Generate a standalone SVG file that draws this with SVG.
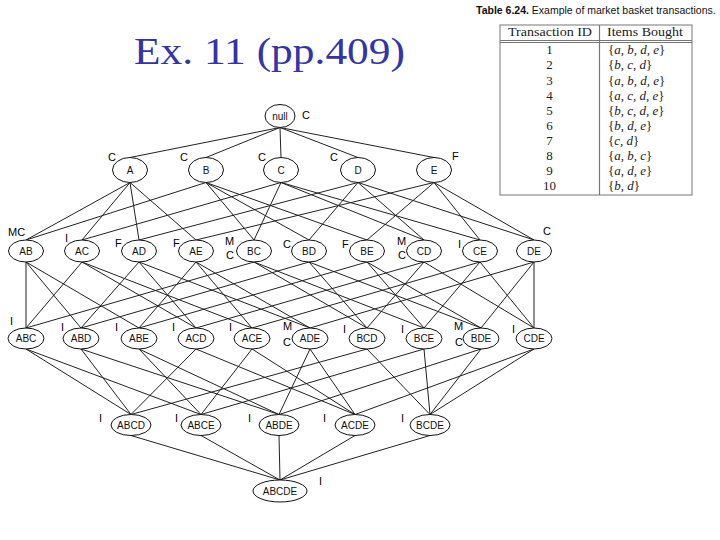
<svg xmlns="http://www.w3.org/2000/svg" width="720" height="540" viewBox="0 0 720 540">
<style>
.node ellipse{fill:#fff;stroke:#111;stroke-width:1}
.node text{font-family:"Liberation Sans",Arial,sans-serif;font-size:10px;fill:#111;text-anchor:middle}
.node text.lbl{font-size:11px;text-anchor:start;fill:#000}
.tb{font-family:"Liberation Serif","Times New Roman",serif;font-size:13px;fill:#222}
.i{font-style:italic}
.num{text-anchor:middle}
</style>
<rect width="720" height="540" fill="#fff"/>
<text x="134" y="64" font-family="Liberation Serif,'Times New Roman',serif" font-size="38" fill="#3333aa" textLength="271" lengthAdjust="spacingAndGlyphs">Ex. 11 (pp.409)</text>

<g id="table">
<text x="476" y="13.5" font-family="Liberation Sans,Arial,sans-serif" font-size="10.5" fill="#111"><tspan font-weight="bold">Table 6.24.</tspan> Example of market basket transactions.</text>
<rect x="500" y="25" width="192" height="170" fill="none" stroke="#777" stroke-width="1"/>
<line x1="500" y1="40.5" x2="692" y2="40.5" stroke="#777"/>
<line x1="500" y1="42.5" x2="692" y2="42.5" stroke="#777"/>
<line x1="599.5" y1="25" x2="599.5" y2="195" stroke="#777" stroke-width="1.2"/>
<text class="tb" x="508" y="36" textLength="84" lengthAdjust="spacingAndGlyphs">Transaction ID</text>
<text class="tb" x="607" y="36" textLength="76" lengthAdjust="spacingAndGlyphs">Items Bought</text>
<g class="tb">
<text class="num" x="549.5" y="54">1</text>
<text class="num" x="549.5" y="69">2</text>
<text class="num" x="549.5" y="84.5">3</text>
<text class="num" x="549.5" y="99.5">4</text>
<text class="num" x="549.5" y="115">5</text>
<text class="num" x="549.5" y="130">6</text>
<text class="num" x="549.5" y="145">7</text>
<text class="num" x="549.5" y="160">8</text>
<text class="num" x="549.5" y="175">9</text>
<text class="num" x="549.5" y="190">10</text>
<text x="608" y="54">{<tspan class="i">a</tspan>, <tspan class="i">b</tspan>, <tspan class="i">d</tspan>, <tspan class="i">e</tspan>}</text>
<text x="608" y="69">{<tspan class="i">b</tspan>, <tspan class="i">c</tspan>, <tspan class="i">d</tspan>}</text>
<text x="608" y="84.5">{<tspan class="i">a</tspan>, <tspan class="i">b</tspan>, <tspan class="i">d</tspan>, <tspan class="i">e</tspan>}</text>
<text x="608" y="99.5">{<tspan class="i">a</tspan>, <tspan class="i">c</tspan>, <tspan class="i">d</tspan>, <tspan class="i">e</tspan>}</text>
<text x="608" y="115">{<tspan class="i">b</tspan>, <tspan class="i">c</tspan>, <tspan class="i">d</tspan>, <tspan class="i">e</tspan>}</text>
<text x="608" y="130">{<tspan class="i">b</tspan>, <tspan class="i">d</tspan>, <tspan class="i">e</tspan>}</text>
<text x="608" y="145">{<tspan class="i">c</tspan>, <tspan class="i">d</tspan>}</text>
<text x="608" y="160">{<tspan class="i">a</tspan>, <tspan class="i">b</tspan>, <tspan class="i">c</tspan>}</text>
<text x="608" y="175">{<tspan class="i">a</tspan>, <tspan class="i">d</tspan>, <tspan class="i">e</tspan>}</text>
<text x="608" y="190">{<tspan class="i">b</tspan>, <tspan class="i">d</tspan>}</text>
</g>
</g>

<g id="connectors" fill="none" stroke="#222" stroke-width="1">
<path d="M280 127.5L130 157.5M280 127.5L206 157.5M280 127.5L281 157.5M280 127.5L358 157.5M280 127.5L434 157.5"/>
<path d="M130 182.5L26 240M130 182.5L82 240M130 182.5L139 240M130 182.5L196 240
M206 182.5L26 240M206 182.5L254 240M206 182.5L309 240M206 182.5L367 240
M281 182.5L82 240M281 182.5L254 240M281 182.5L424 240M281 182.5L480 240
M358 182.5L139 240M358 182.5L309 240M358 182.5L424 240M358 182.5L534 240
M434 182.5L196 240M434 182.5L367 240M434 182.5L480 240M434 182.5L534 240"/>
<path d="M26 262L26 328M26 262L81 328M26 262L139 328
M82 262L26 328M82 262L196 328M82 262L252 328
M139 262L81 328M139 262L196 328M139 262L310 328
M196 262L139 328M196 262L252 328M196 262L310 328
M254 262L26 328M254 262L367 328M254 262L424 328
M309 262L81 328M309 262L367 328M309 262L481 328
M367 262L139 328M367 262L424 328M367 262L481 328
M424 262L196 328M424 262L367 328M424 262L534 328
M480 262L252 328M480 262L424 328M480 262L534 328
M534 262L310 328M534 262L481 328M534 262L534 328"/>
<path d="M26 349L131 414.5M26 349L201 414.5
M81 349L131 414.5M81 349L279 414.5
M139 349L201 414.5M139 349L279 414.5
M196 349L131 414.5M196 349L355 414.5
M252 349L201 414.5M252 349L355 414.5
M310 349L279 414.5M310 349L355 414.5
M367 349L131 414.5M367 349L430 414.5
M424 349L201 414.5M424 349L430 414.5
M481 349L279 414.5M481 349L430 414.5
M534 349L355 414.5M534 349L430 414.5"/>
<path d="M131 435.5L280 480M201 435.5L280 480M279 435.5L280 480M355 435.5L280 480M430 435.5L280 480"/>
</g>

<g id="nodes" opacity="0.999">
<g id="n-null" class="node"><ellipse cx="280" cy="116" rx="15" ry="11.5"/><text x="280" y="119.5">null</text><text class="lbl" x="302" y="118.5">C</text></g>

<g id="n-A" class="node"><ellipse cx="130" cy="170" rx="17.5" ry="12.5"/><text x="130" y="173.5">A</text><text class="lbl" x="108" y="161">C</text></g>
<g id="n-B" class="node"><ellipse cx="206" cy="170" rx="17.5" ry="12.5"/><text x="206" y="173.5">B</text><text class="lbl" x="180" y="161">C</text></g>
<g id="n-C" class="node"><ellipse cx="281" cy="170" rx="17.5" ry="12.5"/><text x="281" y="173.5">C</text><text class="lbl" x="258" y="161">C</text></g>
<g id="n-D" class="node"><ellipse cx="358" cy="170" rx="17.5" ry="12.5"/><text x="358" y="173.5">D</text><text class="lbl" x="330" y="161">C</text></g>
<g id="n-E" class="node"><ellipse cx="434" cy="170" rx="17.5" ry="12.5"/><text x="434" y="173.5">E</text><text class="lbl" x="452" y="160">F</text></g>

<g id="n-AB" class="node"><ellipse cx="26" cy="251" rx="17.5" ry="11"/><text x="26" y="254.5">AB</text><text class="lbl" x="8" y="236">MC</text></g>
<g id="n-AC" class="node"><ellipse cx="82" cy="251" rx="17.5" ry="11"/><text x="82" y="254.5">AC</text><text class="lbl" x="65" y="242">I</text></g>
<g id="n-AD" class="node"><ellipse cx="139" cy="251" rx="17.5" ry="11"/><text x="139" y="254.5">AD</text><text class="lbl" x="115" y="247">F</text></g>
<g id="n-AE" class="node"><ellipse cx="196" cy="251" rx="17.5" ry="11"/><text x="196" y="254.5">AE</text><text class="lbl" x="173" y="247">F</text></g>
<g id="n-BC" class="node"><ellipse cx="254" cy="251" rx="17.5" ry="11"/><text x="254" y="254.5">BC</text><text class="lbl" x="225" y="245">M</text><text class="lbl" x="226" y="259">C</text></g>
<g id="n-BD" class="node"><ellipse cx="309" cy="251" rx="17.5" ry="11"/><text x="309" y="254.5">BD</text><text class="lbl" x="283" y="248">C</text></g>
<g id="n-BE" class="node"><ellipse cx="367" cy="251" rx="17.5" ry="11"/><text x="367" y="254.5">BE</text><text class="lbl" x="342" y="248">F</text></g>
<g id="n-CD" class="node"><ellipse cx="424" cy="251" rx="17.5" ry="11"/><text x="424" y="254.5">CD</text><text class="lbl" x="397" y="245">M</text><text class="lbl" x="398" y="259">C</text></g>
<g id="n-CE" class="node"><ellipse cx="480" cy="251" rx="17.5" ry="11"/><text x="480" y="254.5">CE</text><text class="lbl" x="458" y="248">I</text></g>
<g id="n-DE" class="node"><ellipse cx="534" cy="251" rx="17.5" ry="11"/><text x="534" y="254.5">DE</text><text class="lbl" x="543" y="235">C</text></g>

<g id="n-ABC" class="node"><ellipse cx="26" cy="338.5" rx="18" ry="10.5"/><text x="26" y="342">ABC</text><text class="lbl" x="10" y="325">I</text></g>
<g id="n-ABD" class="node"><ellipse cx="81" cy="338.5" rx="18" ry="10.5"/><text x="81" y="342">ABD</text><text class="lbl" x="61" y="331">I</text></g>
<g id="n-ABE" class="node"><ellipse cx="139" cy="338.5" rx="18" ry="10.5"/><text x="139" y="342">ABE</text><text class="lbl" x="115" y="331">I</text></g>
<g id="n-ACD" class="node"><ellipse cx="196" cy="338.5" rx="18" ry="10.5"/><text x="196" y="342">ACD</text><text class="lbl" x="172" y="331">I</text></g>
<g id="n-ACE" class="node"><ellipse cx="252" cy="338.5" rx="18" ry="10.5"/><text x="252" y="342">ACE</text><text class="lbl" x="229" y="331">I</text></g>
<g id="n-ADE" class="node"><ellipse cx="310" cy="338.5" rx="18" ry="10.5"/><text x="310" y="342">ADE</text><text class="lbl" x="283" y="330">M</text><text class="lbl" x="283" y="346">C</text></g>
<g id="n-BCD" class="node"><ellipse cx="367" cy="338.5" rx="18" ry="10.5"/><text x="367" y="342">BCD</text><text class="lbl" x="343" y="333">I</text></g>
<g id="n-BCE" class="node"><ellipse cx="424" cy="338.5" rx="18" ry="10.5"/><text x="424" y="342">BCE</text><text class="lbl" x="401" y="333">I</text></g>
<g id="n-BDE" class="node"><ellipse cx="481" cy="338.5" rx="18" ry="10.5"/><text x="481" y="342">BDE</text><text class="lbl" x="454" y="330">M</text><text class="lbl" x="455" y="346">C</text></g>
<g id="n-CDE" class="node"><ellipse cx="534" cy="338.5" rx="18" ry="10.5"/><text x="534" y="342">CDE</text><text class="lbl" x="512" y="333">I</text></g>

<g id="n-ABCD" class="node"><ellipse cx="131" cy="425" rx="20" ry="10.5"/><text x="131" y="428.5">ABCD</text><text class="lbl" x="99" y="422">I</text></g>
<g id="n-ABCE" class="node"><ellipse cx="201" cy="425" rx="20" ry="10.5"/><text x="201" y="428.5">ABCE</text><text class="lbl" x="175" y="422">I</text></g>
<g id="n-ABDE" class="node"><ellipse cx="279" cy="425" rx="20" ry="10.5"/><text x="279" y="428.5">ABDE</text><text class="lbl" x="248" y="422">I</text></g>
<g id="n-ACDE" class="node"><ellipse cx="355" cy="425" rx="20" ry="10.5"/><text x="355" y="428.5">ACDE</text><text class="lbl" x="323" y="422">I</text></g>
<g id="n-BCDE" class="node"><ellipse cx="430" cy="425" rx="20" ry="10.5"/><text x="430" y="428.5">BCDE</text><text class="lbl" x="401" y="422">I</text></g>

<g id="n-ABCDE" class="node"><ellipse cx="280" cy="491" rx="27" ry="11"/><text x="280" y="494.5">ABCDE</text><text class="lbl" x="319" y="485">I</text></g>
</g>
</svg>
